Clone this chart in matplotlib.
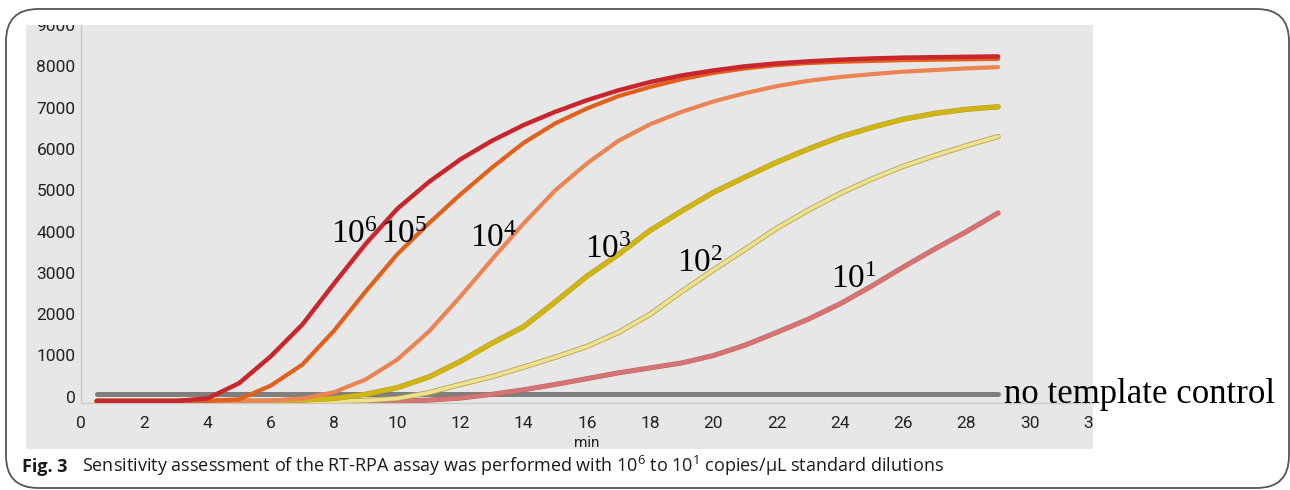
import matplotlib
matplotlib.use("Agg")
import matplotlib.pyplot as plt
import matplotlib.patheffects as pe
from matplotlib.patches import Rectangle, FancyBboxPatch

# ---------------- data ----------------
times = [0.5, 1, 2, 3, 4, 5, 6, 7, 8, 9, 10, 11, 12, 13, 14, 15, 16, 17, 18, 19,
         20, 21, 22, 23, 24, 25, 26, 27, 28, 29]

e6 = [-100, -100, -100, -100, -40, 330, 980, 1750, 2740, 3700, 4550, 5200, 5750, 6200,
      6580, 6900, 7180, 7420, 7620, 7780, 7900, 8000, 8070, 8120, 8160, 8190, 8210,
      8220, 8230, 8240]
e5 = [-100, -100, -100, -100, -100, -60, 270, 780, 1600, 2550, 3450, 4200, 4900, 5550,
      6150, 6620, 6980, 7280, 7500, 7690, 7840, 7950, 8030, 8080, 8110, 8130, 8150,
      8160, 8170, 8180]
e4 = [-100, -100, -100, -100, -100, -100, -90, -40, 110, 420, 900, 1580, 2430, 3330,
      4200, 5000, 5650, 6200, 6600, 6900, 7150, 7350, 7520, 7650, 7740, 7810, 7870,
      7910, 7950, 7980]
e3 = [-110, -110, -110, -110, -110, -110, -110, -80, -40, 60, 220, 480, 860, 1300,
      1700, 2300, 2920, 3450, 4030, 4500, 4950, 5320, 5680, 6000, 6290, 6520, 6720,
      6860, 6960, 7020]
e2 = [-110, -110, -110, -110, -110, -110, -110, -110, -110, -90, -40, 100, 300, 490,
      720, 960, 1220, 1560, 2000, 2550, 3070, 3570, 4080, 4520, 4920, 5270, 5580,
      5840, 6080, 6300]
e1 = [-110, -110, -110, -110, -110, -110, -110, -110, -110, -110, -110, -80, -30, 60,
      170, 300, 440, 580, 700, 820, 1000, 1250, 1560, 1880, 2250, 2680, 3140, 3580,
      4000, 4450]
ntc_times = [0.5, 29]
ntc_values = [70, 70]

curve_labels = ["10^6", "10^5", "10^4", "10^3", "10^2", "10^1"]
label_x = [8.63, 10.21, 13.03, 16.66, 19.57, 24.44]
label_y = [3930, 3930, 3830, 3550, 3210, 2830]

x_ticks = [0, 2, 4, 6, 8, 10, 12, 14, 16, 18, 20, 22, 24, 26, 28, 30, 32]
y_ticks = [0, 1000, 2000, 3000, 4000, 5000, 6000, 7000, 8000, 9000]

# ---------------- figure ----------------
W, H = 1290, 490
fig = plt.figure(figsize=(W / 100, H / 100), dpi=100)
fig.patch.set_facecolor("white")

def fx(px):
    return px / W

def fy(py):
    return (H - py) / H

# outer rounded frame
frame = FancyBboxPatch((fx(6), fy(488)), fx(1283) - fx(0), fy(9) - fy(488),
                       boxstyle="round,pad=0,rounding_size=0.025",
                       transform=fig.transFigure, facecolor="none",
                       edgecolor="#555555", linewidth=1.3, mutation_aspect=W / H,
                       zorder=-20)
fig.patches.append(frame)

# grey panel
panel = Rectangle((fx(26), fy(449)), fx(1093) - fx(26), fy(25) - fy(449),
                  transform=fig.transFigure, facecolor="#e7e7e7", edgecolor="none",
                  zorder=-10)
fig.patches.append(panel)

ax = fig.add_axes([fx(81), fy(403), fx(1093) - fx(81), fy(25) - fy(403)])
ax.set_zorder(5)
ax.set_facecolor("none")
ax.set_xlim(0, 32)
ax.set_ylim(-150, 8860)

for s in ["top", "right"]:
    ax.spines[s].set_visible(False)
ax.spines["left"].set_color("#c9c9c9")
ax.spines["bottom"].set_color("#c9c9c9")
ax.spines["left"].set_linewidth(1.0)
ax.spines["bottom"].set_linewidth(1.0)

ax.set_xticks(x_ticks)
ax.set_yticks(y_ticks)
ax.set_xticklabels([str(v) for v in x_ticks])
ax.set_yticklabels([str(v) for v in y_ticks])
ax.tick_params(axis="both", length=0, labelsize=12.5, labelcolor="#222222")
ax.tick_params(axis="x", pad=9)
ax.tick_params(axis="y", pad=4)
for lab in ax.get_xticklabels() + ax.get_yticklabels():
    lab.set_fontfamily("Roboto")
for t in ax.xaxis.get_major_ticks() + ax.yaxis.get_major_ticks():
    t.label1.set_clip_on(True)
    t.label1.set_clip_path(panel)

ax.set_xlabel("min", fontsize=11, family="Roboto", color="#222222", labelpad=4)

# curves
ax.plot(ntc_times, ntc_values, color="#7f7f7f", lw=3.6, solid_capstyle="round",
        zorder=2)
ax.plot(times, e1, color="#d67373", lw=3, solid_capstyle="round", zorder=3,
        path_effects=[pe.Stroke(linewidth=3.6, foreground="#bd6060"), pe.Normal()])
ax.plot(times, e2, color="#efe28e", lw=2.6, solid_capstyle="round", zorder=3,
        path_effects=[pe.Stroke(linewidth=3.8, foreground="#b3a25c"), pe.Normal()])
ax.plot(times, e3, color="#d1b416", lw=3.2, solid_capstyle="round", zorder=3,
        path_effects=[pe.Stroke(linewidth=3.8, foreground="#b39a10"), pe.Normal()])
ax.plot(times, e4, color="#eb8452", lw=3, solid_capstyle="round", zorder=4)
ax.plot(times, e5, color="#e0601c", lw=3, solid_capstyle="round", zorder=4)
ax.plot(times, e6, color="#c8262c", lw=3.2, solid_capstyle="round", zorder=5)

# curve labels
for lab, lx, ly in zip(curve_labels, label_x, label_y):
    ax.text(lx, ly, r"$\mathregular{" + lab + "}$", family="Liberation Serif",
            fontsize=24, ha="center", va="center", color="black", zorder=6)

ax.text(29.2, -143, "no template control", family="Liberation Serif", fontsize=25,
        ha="left", va="baseline", color="black", clip_on=False, zorder=6)

# caption
fig.text(fx(22), fy(472), "Fig. 3", family="Open Sans", fontweight="bold",
         fontsize=13, va="baseline", ha="left", color="#1a1a1a")
fig.text(fx(82), fy(472),
         r"Sensitivity assessment of the RT-RPA assay was performed with "
         r"$\mathregular{10^6}$ to $\mathregular{10^1}$ copies/µL standard dilutions",
         family="Open Sans", fontsize=13, va="baseline", ha="left", color="#1a1a1a")

fig.savefig("out.png", dpi=100)
